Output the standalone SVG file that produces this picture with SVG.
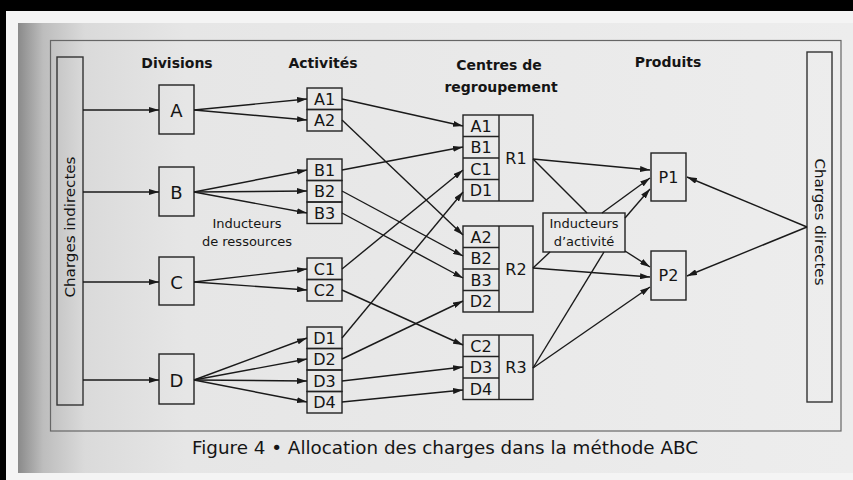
<svg xmlns="http://www.w3.org/2000/svg" width="853" height="480" viewBox="0 0 853 480">
  <defs>
    <linearGradient id="page" x1="0" y1="0" x2="1" y2="0">
      <stop offset="0" stop-color="#8a8a8a"/>
      <stop offset="0.03" stop-color="#bdbdbd"/>
      <stop offset="0.08" stop-color="#dadada"/>
      <stop offset="0.2" stop-color="#e6e6e6"/>
      <stop offset="1" stop-color="#ededed"/>
    </linearGradient>
    <marker id="ah" markerWidth="10" markerHeight="6" refX="10" refY="3" orient="auto" markerUnits="userSpaceOnUse">
      <path d="M0,0 L10,3 L0,6 z" fill="#1a1a1a"/>
    </marker>
    <style>
      .box { fill: none; stroke: #222; stroke-width: 1.4; }
      .bar { fill: none; stroke: #333; stroke-width: 1.4; }
      .frame { fill: none; stroke: #666; stroke-width: 1.2; }
      .lbl { font-family: "DejaVu Sans", "Liberation Sans", sans-serif; fill: #151515; }
      .cell { font-size: 16px; text-anchor: middle; dominant-baseline: central; }
      .div { font-size: 18px; text-anchor: middle; dominant-baseline: central; }
      .head { font-size: 14px; font-weight: bold; text-anchor: middle; }
      .note { font-size: 13px; text-anchor: middle; }
      #connectors line { stroke: #1a1a1a; stroke-width: 1.4; }
      #connectors .arr { marker-end: url(#ah); }
    </style>
  </defs>

  <!-- page scan background -->
  <rect x="0" y="0" width="853" height="480" fill="#000"/>
  <rect x="6" y="11" width="847" height="469" fill="#f4f4f4"/>
  <rect x="18" y="23" width="835" height="450" fill="url(#page)"/>

  <!-- outer frame -->
  <rect class="frame" x="50.5" y="40.5" width="790.5" height="390.5"/>

  <!-- column headings -->
  <g id="headings" class="lbl">
    <text class="head" x="177" y="68">Divisions</text>
    <text class="head" x="323" y="68">Activités</text>
    <text class="head" x="499" y="70">Centres de</text>
    <text class="head" x="501" y="92">regroupement</text>
    <text class="head" x="668" y="67">Produits</text>
  </g>

  <!-- side bars -->
  <g id="charges-indirectes">
    <rect class="bar" x="57" y="57" width="26" height="348"/>
    <text class="lbl" x="0" y="0" font-size="14" text-anchor="middle" dominant-baseline="central" textLength="141" lengthAdjust="spacingAndGlyphs" transform="translate(70,227) rotate(-90)">Charges indirectes</text>
  </g>
  <g id="charges-directes">
    <rect class="bar" x="807" y="52" width="25" height="350"/>
    <text class="lbl" x="0" y="0" font-size="14" text-anchor="middle" dominant-baseline="central" textLength="127" lengthAdjust="spacingAndGlyphs" transform="translate(820,222) rotate(90)">Charges directes</text>
  </g>

  <!-- divisions -->
  <g id="div-A"><rect class="box" x="159" y="85" width="35" height="49"/><text class="lbl div" x="176.5" y="110">A</text></g>
  <g id="div-B"><rect class="box" x="159" y="167" width="35" height="49"/><text class="lbl div" x="176.5" y="192">B</text></g>
  <g id="div-C"><rect class="box" x="159" y="257" width="35" height="48"/><text class="lbl div" x="176.5" y="282">C</text></g>
  <g id="div-D"><rect class="box" x="159" y="354" width="35" height="50"/><text class="lbl div" x="176.5" y="380">D</text></g>

  <!-- activities -->
  <g id="act-A">
    <rect class="box" x="307" y="88" width="35" height="21.5"/>
    <rect class="box" x="307" y="109.5" width="35" height="21.5"/>
    <text class="lbl cell" x="324.5" y="99">A1</text>
    <text class="lbl cell" x="324.5" y="120.5">A2</text>
  </g>
  <g id="act-B">
    <rect class="box" x="307" y="159" width="35" height="21.5"/>
    <rect class="box" x="307" y="180.5" width="35" height="21.5"/>
    <rect class="box" x="307" y="202" width="35" height="21.5"/>
    <text class="lbl cell" x="324.5" y="170">B1</text>
    <text class="lbl cell" x="324.5" y="191.5">B2</text>
    <text class="lbl cell" x="324.5" y="213">B3</text>
  </g>
  <g id="act-C">
    <rect class="box" x="307" y="258" width="35" height="21.5"/>
    <rect class="box" x="307" y="279.5" width="35" height="21.5"/>
    <text class="lbl cell" x="324.5" y="269">C1</text>
    <text class="lbl cell" x="324.5" y="290.5">C2</text>
  </g>
  <g id="act-D">
    <rect class="box" x="307" y="327" width="35" height="21.5"/>
    <rect class="box" x="307" y="348.5" width="35" height="21.5"/>
    <rect class="box" x="307" y="370" width="35" height="21.5"/>
    <rect class="box" x="307" y="391.5" width="35" height="21.5"/>
    <text class="lbl cell" x="324.5" y="338">D1</text>
    <text class="lbl cell" x="324.5" y="359.5">D2</text>
    <text class="lbl cell" x="324.5" y="381">D3</text>
    <text class="lbl cell" x="324.5" y="402.5">D4</text>
  </g>

  <!-- regrouping centres -->
  <g id="centre-R1">
    <rect class="box" x="463" y="115" width="70" height="86"/>
    <line class="box" x1="499" y1="115" x2="499" y2="201"/>
    <line class="box" x1="463" y1="136.5" x2="499" y2="136.5"/>
    <line class="box" x1="463" y1="158" x2="499" y2="158"/>
    <line class="box" x1="463" y1="179.5" x2="499" y2="179.5"/>
    <text class="lbl cell" x="481" y="126">A1</text>
    <text class="lbl cell" x="481" y="147.5">B1</text>
    <text class="lbl cell" x="481" y="169">C1</text>
    <text class="lbl cell" x="481" y="190.5">D1</text>
    <text class="lbl cell" x="516" y="158">R1</text>
  </g>
  <g id="centre-R2">
    <rect class="box" x="463" y="226" width="70" height="86"/>
    <line class="box" x1="499" y1="226" x2="499" y2="312"/>
    <line class="box" x1="463" y1="247.5" x2="499" y2="247.5"/>
    <line class="box" x1="463" y1="269" x2="499" y2="269"/>
    <line class="box" x1="463" y1="290.5" x2="499" y2="290.5"/>
    <text class="lbl cell" x="481" y="237">A2</text>
    <text class="lbl cell" x="481" y="258.5">B2</text>
    <text class="lbl cell" x="481" y="280">B3</text>
    <text class="lbl cell" x="481" y="301.5">D2</text>
    <text class="lbl cell" x="516" y="269">R2</text>
  </g>
  <g id="centre-R3">
    <rect class="box" x="463" y="335" width="70" height="64.5"/>
    <line class="box" x1="499" y1="335" x2="499" y2="399.5"/>
    <line class="box" x1="463" y1="356.5" x2="499" y2="356.5"/>
    <line class="box" x1="463" y1="378" x2="499" y2="378"/>
    <text class="lbl cell" x="481" y="346">C2</text>
    <text class="lbl cell" x="481" y="367.5">D3</text>
    <text class="lbl cell" x="481" y="389">D4</text>
    <text class="lbl cell" x="516" y="367.5">R3</text>
  </g>

  <!-- products -->
  <g id="prod-P1"><rect class="box" x="651" y="153" width="35" height="48"/><text class="lbl cell" x="668.5" y="177">P1</text></g>
  <g id="prod-P2"><rect class="box" x="651" y="251" width="35" height="49"/><text class="lbl cell" x="668.5" y="275.5">P2</text></g>

  <!-- driver labels -->
  <g id="inducteurs-ressources" class="lbl">
    <text class="note" x="247" y="228">Inducteurs</text>
    <text class="note" x="247" y="246">de ressources</text>
  </g>
  <g id="inducteurs-activite">
    <rect class="box" x="543" y="213" width="82" height="39" fill="#e8e8e8"/>
    <text class="lbl note" x="584" y="228">Inducteurs</text>
    <text class="lbl note" x="584" y="246">d’activité</text>
  </g>

  <!-- connectors -->
  <g id="connectors">
    <!-- indirect charges to divisions -->
    <line class="arr" x1="83" y1="110" x2="159" y2="110"/>
    <line class="arr" x1="83" y1="192" x2="159" y2="192"/>
    <line class="arr" x1="83" y1="282" x2="159" y2="282"/>
    <line class="arr" x1="83" y1="380" x2="159" y2="380"/>
    <!-- divisions to activities -->
    <line class="arr" x1="194" y1="110" x2="307" y2="99"/>
    <line class="arr" x1="194" y1="110" x2="307" y2="120"/>
    <line class="arr" x1="194" y1="192" x2="307" y2="170"/>
    <line class="arr" x1="194" y1="192" x2="307" y2="191"/>
    <line class="arr" x1="194" y1="192" x2="307" y2="213"/>
    <line class="arr" x1="194" y1="282" x2="307" y2="269"/>
    <line class="arr" x1="194" y1="282" x2="307" y2="290"/>
    <line class="arr" x1="194" y1="380" x2="307" y2="338"/>
    <line class="arr" x1="194" y1="380" x2="307" y2="359"/>
    <line class="arr" x1="194" y1="380" x2="307" y2="381"/>
    <line class="arr" x1="194" y1="380" x2="307" y2="402"/>
    <!-- activities to regrouping centres -->
    <line class="arr" x1="342" y1="99" x2="463" y2="126"/>
    <line class="arr" x1="342" y1="120" x2="463" y2="235"/>
    <line class="arr" x1="342" y1="170" x2="463" y2="147"/>
    <line class="arr" x1="342" y1="191" x2="463" y2="256"/>
    <line class="arr" x1="342" y1="213" x2="463" y2="278"/>
    <line class="arr" x1="342" y1="269" x2="463" y2="170"/>
    <line class="arr" x1="342" y1="290" x2="463" y2="345"/>
    <line class="arr" x1="342" y1="338" x2="463" y2="192"/>
    <line class="arr" x1="342" y1="359" x2="463" y2="301"/>
    <line class="arr" x1="342" y1="381" x2="463" y2="367"/>
    <line class="arr" x1="342" y1="402" x2="463" y2="390"/>
    <!-- centres to products and activity drivers -->
    <line class="arr" x1="533" y1="159" x2="650" y2="170"/>
    <line x1="533" y1="159" x2="587" y2="213"/>
    <line class="arr" x1="533" y1="268" x2="650" y2="277"/>
    <line x1="533" y1="268" x2="550" y2="252"/>
    <line x1="533" y1="368" x2="604" y2="252"/>
    <line class="arr" x1="533" y1="368" x2="650" y2="287"/>
    <line class="arr" x1="602" y1="213" x2="650" y2="178"/>
    <line class="arr" x1="625" y1="218" x2="650" y2="189"/>
    <line class="arr" x1="625" y1="251" x2="650" y2="267"/>
    <!-- direct charges to products -->
    <line class="arr" x1="807" y1="227" x2="687" y2="177"/>
    <line class="arr" x1="807" y1="227" x2="687" y2="276"/>
  </g>

  <!-- caption -->
  <text class="lbl" x="192" y="454" font-size="17" textLength="506" lengthAdjust="spacingAndGlyphs">Figure 4 • Allocation des charges dans la méthode ABC</text>
</svg>
